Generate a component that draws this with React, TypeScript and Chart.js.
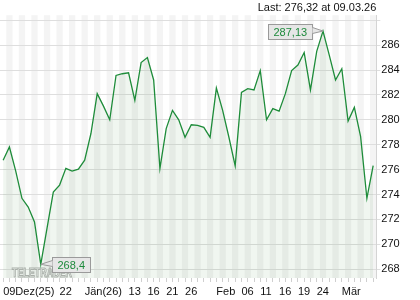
import React, { useEffect, useRef } from "react";
import { Chart, registerables } from "chart.js";

Chart.register(...registerables);

// trading days (dd.mm.yy)
const dates = [
  "09.12.25", "10.12.25", "11.12.25", "12.12.25", "15.12.25", "16.12.25", "17.12.25", "18.12.25", "19.12.25", "22.12.25",
  "23.12.25", "29.12.25", "30.12.25", "02.01.26", "05.01.26", "06.01.26", "07.01.26", "08.01.26", "09.01.26", "12.01.26",
  "13.01.26", "14.01.26", "15.01.26", "16.01.26", "19.01.26", "20.01.26", "21.01.26", "22.01.26", "23.01.26", "26.01.26",
  "27.01.26", "28.01.26", "29.01.26", "30.01.26", "02.02.26", "03.02.26", "04.02.26", "05.02.26", "06.02.26", "09.02.26",
  "10.02.26", "11.02.26", "12.02.26", "13.02.26", "16.02.26", "17.02.26", "18.02.26", "19.02.26", "20.02.26", "23.02.26",
  "24.02.26", "25.02.26", "26.02.26", "27.02.26", "02.03.26", "03.03.26", "04.03.26", "05.03.26", "06.03.26", "09.03.26",
];

const prices = [
  276.76, 277.82, 275.9, 273.7, 273.0, 271.8, 268.4, 271.3, 274.2, 274.76,
  276.1, 275.88, 276.04, 276.76, 278.9, 282.1, 281.1, 280.0, 283.56, 283.7,
  283.78, 281.56, 284.6, 285.0, 283.2, 276.1, 279.3, 280.76, 280.0, 278.6,
  279.6, 279.56, 279.4, 278.6, 282.55, 280.76, 278.6, 276.3, 282.2, 282.5,
  282.4, 283.95, 280.0, 280.9, 280.7, 282.1, 283.95, 284.4, 285.4, 282.4,
  285.5, 287.13, 285.2, 283.2, 284.1, 279.9, 281.0, 278.65, 273.7, 276.32,
];

const xTickIndex = [0, 9, 13, 20, 23, 26, 29, 34, 38, 41, 44, 47, 50, 54];
const xTickText = ["09Dez(25)", "22", "Jän(26)", "13", "16", "21", "26", "Feb", "06", "11", "16", "19", "24", "Mär"];

const yTicks = [268, 270, 272, 274, 276, 278, 280, 282, 284, 286, 288];
const yMin = 267.3;
const yMax = 288.4;

const lastText = "Last: 276,32 at 09.03.26";
const lowIndex = 6;
const lowText = "268,4";
const highIndex = 51;
const highText = "287,13";
const watermark = "TELETRADER";

const FONT = '"Liberation Sans", Arial, sans-serif';

function drawCallout(ctx: CanvasRenderingContext2D, px: number, py: number, text: string, side: "left" | "right") {
  ctx.save();
  ctx.font = `11px ${FONT}`;
  const tw = ctx.measureText(text).width;
  const w = Math.round(tw + 10);
  const h = 15;
  const gap = 11;
  const bx = Math.round(side === "right" ? px + gap : px - gap - w) + 0.5;
  const by = Math.round(py - h / 2) + 0.5;
  ctx.fillStyle = "#e6e6e6";
  ctx.strokeStyle = "#9a9a9a";
  ctx.lineWidth = 1;
  ctx.fillRect(bx, by, w, h);
  ctx.strokeRect(bx, by, w, h);
  // pointer
  const ex = side === "right" ? bx : bx + w;
  ctx.beginPath();
  ctx.moveTo(px, py);
  ctx.lineTo(ex, by + 3);
  ctx.lineTo(ex, by + 9);
  ctx.closePath();
  ctx.fill();
  ctx.beginPath();
  ctx.moveTo(ex, by + 3);
  ctx.lineTo(px, py);
  ctx.lineTo(ex, by + 9);
  ctx.stroke();
  ctx.fillStyle = "#1e8a3c";
  ctx.textBaseline = "middle";
  ctx.textAlign = "left";
  ctx.fillText(text, bx + 5, by + h / 2 + 0.5);
  ctx.restore();
}

const decorPlugin = {
  id: "decor",
  beforeDraw(chart: any) {
    const { ctx, chartArea: a, scales } = chart;
    const x = scales.x;
    ctx.save();
    ctx.fillStyle = "#ffffff";
    ctx.fillRect(0, 0, chart.width, chart.height);
    const n = prices.length;
    const w = (a.right - a.left) / n;
    ctx.fillStyle = "#f4f4f4";
    for (let i = 0; i < n; i++) {
      if (i % 2 === 1) {
        const cx = x.getPixelForValue(i);
        ctx.fillRect(cx - w / 2, a.top, w, a.bottom - a.top);
      }
    }
    ctx.restore();
  },
  beforeDatasetsDraw(chart: any) {
    const { ctx, chartArea: a } = chart;
    ctx.save();
    ctx.font = `bold 12px ${FONT}`;
    ctx.textBaseline = "alphabetic";
    ctx.fillStyle = "rgba(255,255,255,0.95)";
    ctx.strokeStyle = "#b4b4b4";
    ctx.lineWidth = 1;
    ctx.fillText(watermark, a.left + 12, a.bottom - 1, 60);
    ctx.strokeText(watermark, a.left + 12, a.bottom - 1, 60);
    ctx.restore();
  },
  afterDatasetsDraw(chart: any) {
    const { ctx, scales } = chart;
    const x = scales.x;
    const y = scales.y;
    drawCallout(ctx, x.getPixelForValue(lowIndex), y.getPixelForValue(prices[lowIndex]), lowText, "right");
    drawCallout(ctx, x.getPixelForValue(highIndex), y.getPixelForValue(prices[highIndex]), highText, "left");
  },
};

export default function App() {
  const ref = useRef<HTMLCanvasElement | null>(null);
  useEffect(() => {
    if (!ref.current) return;
    const chart = new Chart(ref.current, {
      type: "line",
      data: {
        labels: dates,
        datasets: [
          {
            data: prices,
            borderColor: "#1e8c3a",
            borderWidth: 1.3,
            pointRadius: 0,
            tension: 0,
            fill: "start",
            backgroundColor: "rgba(60,140,60,0.08)",
          },
        ],
      },
      options: {
        animation: false,
        responsive: false,
        devicePixelRatio: 1,
        layout: { padding: 0 },
        plugins: {
          legend: { display: false },
          tooltip: { enabled: false },
          title: {
            display: true,
            text: lastText,
            align: "end",
            fullSize: false,
            color: "#111",
            font: { family: FONT, size: 11, weight: "normal" },
            padding: { top: 1, bottom: 1 },
          },
        },
        scales: {
          x: {
            type: "category",
            offset: true,
            grid: {
              drawOnChartArea: false,
              drawTicks: true,
              tickLength: 4,
              color: "#cfcfcf",
              offset: false,
            },
            border: { display: false },
            ticks: {
              autoSkip: false,
              maxRotation: 0,
              minRotation: 0,
              align: "start",
              padding: 3,
              color: "#111",
              font: { family: FONT, size: 11 },
              callback: (_v: any, idx: number) => {
                const k = xTickIndex.indexOf(idx);
                return k >= 0 ? xTickText[k] : "";
              },
            },
            afterFit: (s: any) => {
              s.height = 22;
            },
          },
          y: {
            type: "linear",
            position: "right",
            min: yMin,
            max: yMax,
            afterBuildTicks: (s: any) => {
              s.ticks = yTicks.map((v) => ({ value: v }));
            },
            grid: { color: "#dedede", tickLength: 4, drawTicks: true },
            border: { display: true, color: "#d4d4d4" },
            ticks: {
              padding: 1,
              color: "#111",
              font: { family: FONT, size: 11 },
              callback: (v: any) => (v === 288 ? "" : String(v)),
            },
            afterFit: (s: any) => {
              s.width = 43.7;
            },
          },
        },
      },
      plugins: [decorPlugin],
    } as any);
    return () => chart.destroy();
  }, []);
  return (
    <div style={{ position: "fixed", left: 0, top: 0, width: 420, height: 300, background: "#fff" }}>
      <canvas ref={ref} width={420} height={300} style={{ display: "block", width: 420, height: 300 }} />
    </div>
  );
}
